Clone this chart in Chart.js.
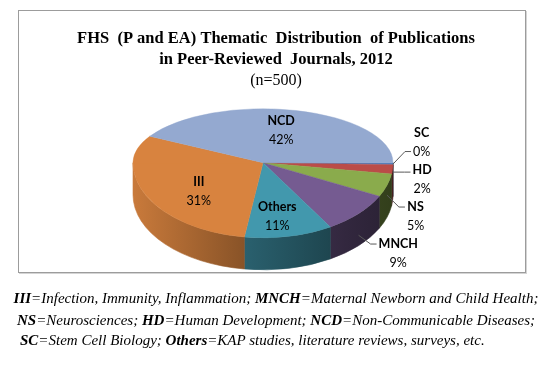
<!DOCTYPE html>
<html>
<head>
<meta charset="utf-8">
<script src="https://cdn.jsdelivr.net/npm/chart.js"></script>
<style>
  html, body { margin: 0; padding: 0; background: #ffffff; }
  #wrap { position: relative; width: 549px; height: 387px; overflow: hidden; }
  #frame { position: absolute; left: 18px; top: 10px; width: 506px; height: 261px;
           border: 1px solid #9c9c9c; box-shadow: 1px 1px 0 #d4d4d4; }
  #c { position: absolute; left: 0; top: 0; }
  .cap { position: absolute; white-space: nowrap; font-family: 'Liberation Serif', 'Times New Roman', serif;
         font-style: italic; font-size: 15px; line-height: 21px; color: #000; }
  .cap b { font-weight: bold; }
  .ctr { left: 0; width: 552px; text-align: center; }
</style>
</head>
<body>
<div id="wrap">
  <div id="frame"></div>
  <canvas id="c" width="549" height="387"></canvas>
  <div class="cap ctr" style="top:288px;"><b>III</b>=Infection, Immunity, Inflammation; <b>MNCH</b>=Maternal Newborn and Child Health;</div>
  <div class="cap ctr" style="top:310px;"><b>NS</b>=Neurosciences; <b>HD</b>=Human Development; <b>NCD</b>=Non-Communicable Diseases;</div>
  <div class="cap" style="top:330px; left:20px;"><b>SC</b>=Stem Cell Biology; <b>Others</b>=KAP studies, literature reviews, surveys, etc.</div>
</div>
<script>
// ---- data ----
const categories = ['SC', 'HD', 'NS', 'MNCH', 'Others', 'III', 'NCD'];
const shares = [0.4, 2, 5, 9, 11, 31, 42];          // percent of publications (n=500)
const sliceColors = ['#4f7fbf', '#bb4c48', '#8aab4c', '#755b91', '#4298ad', '#d8833f', '#94a9d0'];
const titleLines = ['FHS  (P and EA) Thematic  Distribution  of Publications', 'in Peer-Reviewed  Journals, 2012'];
const subtitleText = '(n=500)';

function shade(hex, f) {
  const n = parseInt(hex.slice(1), 16);
  const r = Math.round(((n >> 16) & 255) * f), g = Math.round(((n >> 8) & 255) * f), b = Math.round((n & 255) * f);
  return 'rgb(' + r + ',' + g + ',' + b + ')';
}

const pie3d = {
  id: 'pie3d',
  afterLayout(chart, args, opts) {
    // keep the pie a little left of the centred title, as in the original
    chart.chartArea.right -= opts.shiftLeft * 2;
    chart.chartArea.width = chart.chartArea.right - chart.chartArea.left;
  },
  beforeDatasetsDraw(chart, args, opts) {
    const ctx = chart.ctx;
    const meta = chart.getDatasetMeta(0);
    const arcs = meta.data;
    if (!arcs.length) return false;
    const cx = arcs[0].x, cy = arcs[0].y, r = arcs[0].outerRadius;
    const ryB = r * opts.backTilt, ryF = r * opts.frontTilt, depth = r * opts.depth;
    const W = chart.width, H = chart.height;
    const TWO = Math.PI * 2;

    // side walls (front half only)
    arcs.forEach((arc) => {
      const col = arc.options.backgroundColor;
      const s0 = ((arc.startAngle % TWO) + TWO) % TWO;
      const e0 = s0 + (arc.endAngle - arc.startAngle);
      [[0, Math.PI], [TWO, TWO + Math.PI]].forEach(([lo, hi]) => {
        const a = Math.max(s0, lo), b = Math.min(e0, hi);
        if (b <= a) return;
        ctx.beginPath();
        ctx.ellipse(cx, cy, r, ryF, 0, a, b);
        ctx.ellipse(cx, cy + depth, r, ryF, 0, b, a, true);
        ctx.closePath();
        const g = ctx.createLinearGradient(cx - r, 0, cx + r, 0);
        g.addColorStop(0, shade(col, 0.93));
        g.addColorStop(0.42, shade(col, 0.64));
        g.addColorStop(0.82, shade(col, 0.43));
        g.addColorStop(1, shade(col, 0.36));
        ctx.fillStyle = g;
        ctx.strokeStyle = g;
        ctx.lineWidth = 0.6;
        ctx.fill();
        ctx.stroke();
      });
    });

    // top face: front half and back half with their own tilt
    const drawTop = (y0, y1, ry) => {
      ctx.save();
      ctx.beginPath();
      ctx.rect(0, y0, W, y1 - y0);
      ctx.clip();
      ctx.translate(cx, cy);
      ctx.scale(1, ry / r);
      ctx.translate(-cx, -cy);
      arcs.forEach(a => a.draw(ctx));
      ctx.restore();
    };
    drawTop(cy, H, ryF);
    drawTop(0, cy + 0.6, ryB);

    // labels
    const data = chart.data.datasets[0].data;
    const total = data.reduce((s, v) => s + v, 0);
    const lh = opts.lineHeight;
    const fam = opts.fontFamily;
    const fs = opts.fontSize;
    const bold = 'bold ' + fs + 'px ' + fam, norm = fs + 'px ' + fam;
    ctx.save();
    ctx.fillStyle = '#000';
    ctx.textBaseline = 'middle';
    ctx.textAlign = 'center';
    const outside = [];
    arcs.forEach((arc, i) => {
      const m = (arc.startAngle + arc.endAngle) / 2;
      const pct = data[i] / total * 100;
      const name = chart.data.labels[i];
      const pctTxt = Math.round(pct) + '%';
      const c = Math.cos(m), s = Math.sin(m);
      if (pct >= 10) {
        const x = cx + opts.insideFracX * r * c;
        const y = cy + opts.insideFracY * (s >= 0 ? ryF : ryB) * s + (s >= 0 ? depth * opts.frontLift : 0);
        ctx.font = bold; ctx.fillText(name, x, y - lh / 2);
        ctx.font = norm; ctx.fillText(pctTxt, x, y + lh / 2);
      } else {
        const ax = cx + r * c;
        const ay = cy + (s >= 0 ? ryF + depth : ryB) * s;
        outside.push({ name, pctTxt, ax, ay, ty: ay + lh / 3 });
      }
    });
    // spread outside labels so they do not overlap
    outside.sort((a, b) => a.ty - b.ty);
    const gap = lh * 2;
    let groups = outside.map(o => ({ items: [o], center: o.ty }));
    let merged = true;
    while (merged) {
      merged = false;
      for (let i = 0; i < groups.length - 1; i++) {
        const g1 = groups[i], g2 = groups[i + 1];
        const b1 = g1.center + (g1.items.length - 1) * gap / 2;
        const t2 = g2.center - (g2.items.length - 1) * gap / 2;
        if (b1 + gap > t2) {
          const items = g1.items.concat(g2.items);
          const center = items.reduce((s, o) => s + o.ty, 0) / items.length;
          groups.splice(i, 2, { items, center });
          merged = true;
          break;
        }
      }
    }
    groups.forEach(g => {
      g.items.forEach((o, k) => {
        const y = g.center - (g.items.length - 1) * gap / 2 + k * gap;
        const y1 = y - lh / 2, y2 = y + lh / 2;
        ctx.font = bold; const w1 = ctx.measureText(o.name).width;
        ctx.font = norm; const w2 = ctx.measureText(o.pctTxt).width;
        const left = o.ax + opts.labelGap;
        const bx = left + Math.max(w1, w2) / 2;
        ctx.font = bold; ctx.fillText(o.name, bx, y1);
        ctx.font = norm; ctx.fillText(o.pctTxt, bx, y2);
        const ly = Math.min(Math.max(o.ay, y1), y2);
        ctx.beginPath();
        ctx.moveTo(o.ax, o.ay);
        ctx.lineTo(left - 8, ly);
        ctx.lineTo(left - 2, ly);
        ctx.strokeStyle = '#595959';
        ctx.lineWidth = 1;
        ctx.stroke();
      });
    });
    ctx.restore();
    return false;
  }
};

const serif = "'Liberation Serif', 'Times New Roman', serif";
new Chart(document.getElementById('c'), {
  type: 'pie',
  data: {
    labels: categories,
    datasets: [{
      data: shares,
      backgroundColor: sliceColors,
      borderColor: sliceColors,
      borderWidth: 0.6
    }]
  },
  options: {
    responsive: false,
    animation: false,
    devicePixelRatio: 1,
    rotation: 90,
    radius: 130,
    layout: { padding: { top: 0, left: 3, right: 0, bottom: 152.5 } },
    plugins: {
      legend: { display: false },
      tooltip: { enabled: false },
      title: {
        display: true, text: titleLines, color: '#000',
        font: { family: serif, size: 16.5, weight: 'bold', lineHeight: 1.2727 },
        padding: { top: 28, bottom: 0 }
      },
      subtitle: {
        display: true, text: subtitleText, color: '#000',
        font: { family: serif, size: 16, weight: 'normal', lineHeight: 1.3125 },
        padding: { top: 0, bottom: 0 }
      },
      pie3d: {
        shiftLeft: 13, backTilt: 54 / 130, frontTilt: 75 / 130, depth: 32 / 130,
        fontFamily: 'Lato, Carlito, sans-serif', fontSize: 12.5, lineHeight: 18.5,
        insideFracX: 0.55, insideFracY: 0.62, frontLift: 0.25, labelGap: 20
      }
    }
  },
  plugins: [pie3d]
});
</script>
</body>
</html>
